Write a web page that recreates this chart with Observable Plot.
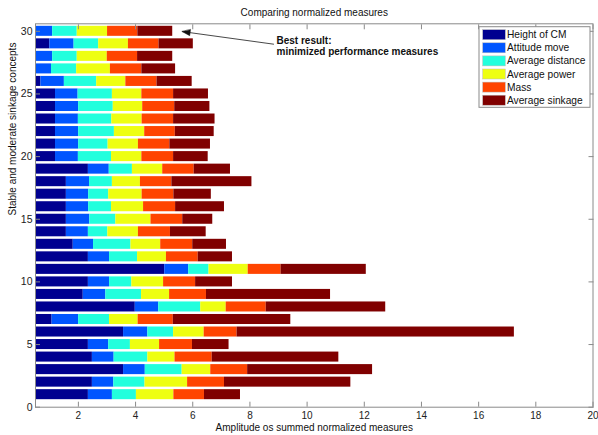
<!DOCTYPE html>
<html>
<head>
<meta charset="utf-8">
<script src="https://cdn.jsdelivr.net/npm/d3@7"></script>
<script src="https://cdn.jsdelivr.net/npm/@observablehq/plot@0.6"></script>
<style>
  html, body { margin: 0; padding: 0; background: #fff; }
  svg { font-family: "Liberation Sans", Arial, sans-serif; }
</style>
</head>
<body>
<div id="chart"></div>
<script>
const measures = ["Height of CM", "Attitude move", "Average distance", "Average power", "Mass", "Average sinkage"];
const colors = ["#000090", "#0055ff", "#22ffdd", "#eeff11", "#ff4400", "#800000"];
const concepts = d3.range(1, 31);

const heightCM = [2.35,2.49,3.58,2.49,2.35,3.58,1.08,3.99,2.17,2.35,5.02,2.35,1.82,1.58,1.58,1.58,1.58,1.58,2.35,1.20,1.20,1.20,1.20,1.20,1.20,0.69,0.45,0.45,1.00,0.45];
const attitude = [0.84,0.75,0.76,0.76,0.71,0.85,0.93,0.82,0.79,0.74,0.84,0.74,0.71,0.77,0.82,0.78,0.78,0.81,0.73,0.80,0.81,0.81,0.80,0.81,0.79,0.82,0.61,0.65,0.85,0.65];
const distance = [0.84,1.09,1.29,1.18,0.76,0.90,1.08,1.47,1.25,0.78,0.71,0.98,1.31,0.68,0.91,0.80,0.70,0.80,0.81,1.16,1.03,1.25,1.17,1.21,1.20,1.13,0.88,0.86,0.86,0.86];
const power = [1.31,1.49,1.00,0.95,1.02,1.07,1.00,0.89,0.98,1.11,1.37,1.01,1.04,1.07,1.23,1.12,1.17,0.98,1.06,1.06,1.06,1.06,1.06,1.03,1.03,1.02,1.18,1.05,1.04,1.06];
const mass = [1.07,1.29,1.29,1.30,1.15,1.15,1.23,1.40,1.29,1.12,1.15,1.11,1.12,1.12,1.11,1.12,1.11,1.10,1.10,1.11,1.10,1.07,1.10,1.12,1.11,1.09,1.10,1.06,1.07,1.06];
const sinkage = [1.26,4.42,4.37,4.43,1.28,9.70,4.11,4.18,4.34,1.29,2.98,1.20,1.18,1.25,1.05,1.71,1.31,2.80,1.27,1.21,1.42,1.36,1.45,1.23,1.22,1.23,1.18,1.23,1.20,1.22];

const xTicks = [2,4,6,8,10,12,14,16,18,20];
const yTicks = [0,5,10,15,20,25,30];

const annotation = [{x1: 8.84, y1: 28.97, x2: 5.63, y2: 29.98, tx: 8.93, ty: 29.66,
  label: "Best result:\nminimized performance measures"}];

const series = [heightCM, attitude, distance, power, mass, sinkage];
const table = [];
concepts.forEach((c, i) => {
  let cum = 0;
  series.forEach((s, j) => {
    table.push({concept: c, measure: measures[j], x1: cum, x2: cum + s[i]});
    cum += s[i];
  });
});

const W = 598, H = 435;
const mL = 35, mR = 5.5, mT = 23.3, mB = 28.3;
const xDomain = [0.5, 20], yDomain = [0, 30.6];

// screen-space direction of the annotation arrow (for its filled head)
const kx = (W - mL - mR) / (xDomain[1] - xDomain[0]);
const ky = (H - mT - mB) / (yDomain[1] - yDomain[0]);
annotation.forEach(a => {
  const dxp = (a.x2 - a.x1) * kx, dyp = -(a.y2 - a.y1) * ky;
  a.angle = Math.atan2(dxp, -dyp) * 180 / Math.PI;
});
const arrowHead = {
  draw(context, l, r) {
    context.moveTo(0, 0);
    context.lineTo(-3, 8);
    context.lineTo(3, 8);
    context.closePath();
  }
};

const plot = Plot.plot({
  width: W, height: H,
  marginLeft: mL, marginRight: mR, marginTop: mT, marginBottom: mB,
  style: {fontFamily: "Liberation Sans, Arial, sans-serif", fontSize: "10px", background: "#fff", overflow: "visible"},
  x: {domain: xDomain},
  y: {domain: yDomain},
  color: {domain: measures, range: colors},
  marks: [
    Plot.rectX(table, {x1: "x1", x2: "x2", y1: d => d.concept - 0.4, y2: d => d.concept + 0.4, fill: "measure", clip: true}),
    Plot.frame({stroke: "#8a8a8a"}),
    Plot.axisX({anchor: "bottom", ticks: xTicks, tickSize: -5, tickPadding: 10, stroke: "#8a8a8a", color: "#222", fontSize: 10}),
    Plot.axisX({anchor: "top", ticks: xTicks, tickSize: -5, tickFormat: () => "", stroke: "#8a8a8a"}),
    Plot.axisY({anchor: "left", ticks: yTicks, tickSize: -5, tickPadding: 8, stroke: "#8a8a8a", color: "#222", fontSize: 10.5}),
    Plot.axisY({anchor: "right", ticks: yTicks, tickSize: -5, tickFormat: () => "", stroke: "#8a8a8a"}),
    Plot.link(annotation, {x1: "x1", y1: "y1", x2: "x2", y2: "y2", stroke: "#333", strokeWidth: 0.9}),
    Plot.vector(annotation, {x: "x2", y: "y2", rotate: "angle", anchor: "start", length: 8, shape: arrowHead, fill: "#111", stroke: "#111", strokeWidth: 0.5}),
    Plot.text(annotation, {x: "tx", y: "ty", text: "label", textAnchor: "start", lineAnchor: "top", lineHeight: 1.14, fontWeight: "bold", fontSize: 10, fill: "#111"}),
    Plot.text(["Comparing normalized measures"], {text: d => d, frameAnchor: "top", lineAnchor: "middle", dy: -11.5, fontSize: 10, fill: "#111"}),
    Plot.text(["Amplitude os summed normalized measures"], {text: d => d, frameAnchor: "bottom", lineAnchor: "middle", dy: 21, fontSize: 10, fill: "#111"}),
    Plot.text(["Stable and moderate sinkage concepts"], {text: d => d, frameAnchor: "left", lineAnchor: "middle", rotate: -90, dx: -23, fontSize: 10, fill: "#111"})
  ]
});

document.getElementById("chart").appendChild(plot);

// legend inside the axes (upper right), MATLAB style
const svg = d3.select(plot);
const lg = svg.append("g").attr("class", "legend").attr("transform", "translate(479,26.7)")
  .attr("text-anchor", "start");
lg.append("rect").attr("x", 0).attr("y", 0).attr("width", 111).attr("height", 80.6)
  .attr("fill", "#fff").attr("stroke", "#8a8a8a");
measures.forEach((m, i) => {
  const yc = 8 + i * 13.1;
  lg.append("rect").attr("x", 3.7).attr("y", yc - 5).attr("width", 22.6).attr("height", 10)
    .attr("fill", colors[i]).attr("stroke", "#bbb").attr("stroke-width", 0.5);
  lg.append("text").attr("x", 28).attr("y", yc).attr("dy", "0.35em")
    .attr("text-anchor", "start")
    .attr("font-size", 10.2).attr("fill", "#111").text(m);
});
</script>
</body>
</html>
